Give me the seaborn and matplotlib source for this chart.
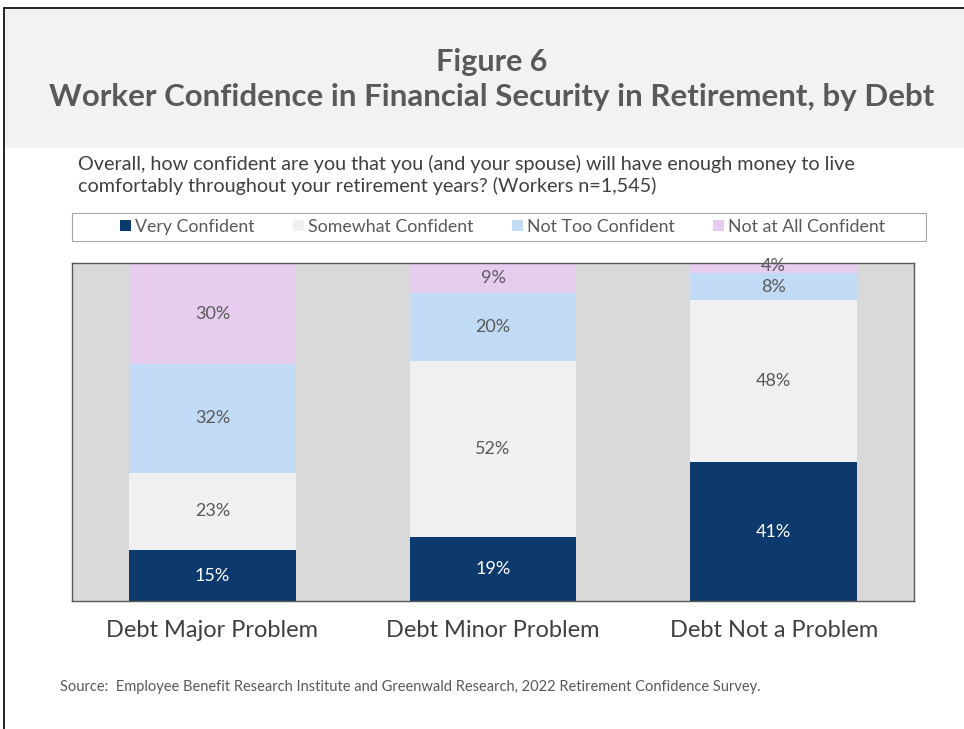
import numpy as np
import pandas as pd
import seaborn as sns
import matplotlib.pyplot as plt
from matplotlib.patches import Rectangle, Patch
from matplotlib.lines import Line2D

# Data
categories = ['Debt Major Problem', 'Debt Minor Problem', 'Debt Not a Problem']
series = ['Very Confident', 'Somewhat Confident', 'Not Too Confident', 'Not at All Confident']
very_confident = [15, 19, 41]
somewhat_confident = [23, 52, 48]
not_too_confident = [32, 20, 8]
not_at_all_confident = [30, 9, 4]

colors = ['#0d3a6e', '#f0f0f0', '#c1dbf5', '#e6ccee']

df = pd.DataFrame({
    'category': categories,
    'Very Confident': very_confident,
    'Somewhat Confident': somewhat_confident,
    'Not Too Confident': not_too_confident,
    'Not at All Confident': not_at_all_confident,
})
cum = df[series].cumsum(axis=1)

sns.set_style('white')
plt.rcParams['font.family'] = ['Lato', 'DejaVu Sans']
text_col = '#595959'

fig = plt.figure(figsize=(9.64, 7.29), dpi=100)

# header band and frame
fig.patches.append(Rectangle((4 / 964, 1 - 148 / 729), 1, 140 / 729,
                             transform=fig.transFigure, facecolor='#f2f2f2',
                             edgecolor='none', zorder=0))
fig.add_artist(Line2D([4 / 964, 4 / 964], [0, 1 - 8 / 729], color='black', lw=1.2,
                      transform=fig.transFigure))
fig.add_artist(Line2D([4 / 964, 1], [1 - 8 / 729, 1 - 8 / 729], color='black', lw=1.2,
                      transform=fig.transFigure))

fig.text(0.51, 1 - 62 / 729, 'Figure 6', ha='center', va='center',
         fontsize=22, fontweight='bold', color=text_col)
fig.text(0.510, 1 - 97 / 729, 'Worker Confidence in Financial Security in Retirement, by Debt',
         ha='center', va='center', fontsize=22.5, fontweight='bold', color=text_col)
fig.text(78 / 964, 1 - 175 / 729,
         'Overall, how confident are you that you (and your spouse) will have enough money to live\n'
         'comfortably throughout your retirement years? (Workers n=1,545)',
         ha='left', va='center', fontsize=14.2, color='#404040', linespacing=1.25)

ax = fig.add_axes([72 / 964, 1 - 601 / 729, 842 / 964, 338 / 729])
ax.set_facecolor('#d9d9d9')

# stacked bars: draw cumulative totals from top layer down
for i in range(len(series) - 1, -1, -1):
    sns.barplot(x=df['category'], y=cum[series[i]], color=colors[i], width=0.595,
                saturation=1, linewidth=0, ax=ax, zorder=2)

for j in range(len(categories)):
    base = 0
    for i, s in enumerate(series):
        v = df[s][j]
        ax.text(j, base + v / 2, f'{v}%', ha='center', va='center', fontsize=13,
                color='white' if i == 0 else text_col, zorder=5)
        base += v

ax.set_ylim(0, 100)
ax.set_xlim(-0.5, 2.5)
ax.set_yticks([])
ax.set_xlabel('')
ax.set_ylabel('')
ax.tick_params(axis='x', length=0, pad=14, labelsize=17, labelcolor='#404040')
for sp in ax.spines.values():
    sp.set_color('#595959')
    sp.set_linewidth(1)

# legend box
fig.patches.append(Rectangle((72 / 964, 1 - 241 / 729), 854 / 964, 28 / 729,
                             transform=fig.transFigure, facecolor='white',
                             edgecolor='#a6a6a6', lw=0.8, zorder=1))
handles = [Patch(facecolor=c, edgecolor='none') for c in colors]
leg = fig.legend(handles, series, loc='center', ncol=4,
                 bbox_to_anchor=(503 / 964, 1 - 227 / 729),
                 frameon=False, fontsize=12.8, handlelength=0.6,
                 handleheight=0.6, handletextpad=0.25, columnspacing=2.15,
                 labelcolor=text_col)

fig.text(60 / 964, 1 - 687 / 729,
         'Source:  Employee Benefit Research Institute and Greenwald Research, 2022 Retirement Confidence Survey.',
         ha='left', va='center', fontsize=10.5, color=text_col)

fig.savefig('out.png', dpi=100)
